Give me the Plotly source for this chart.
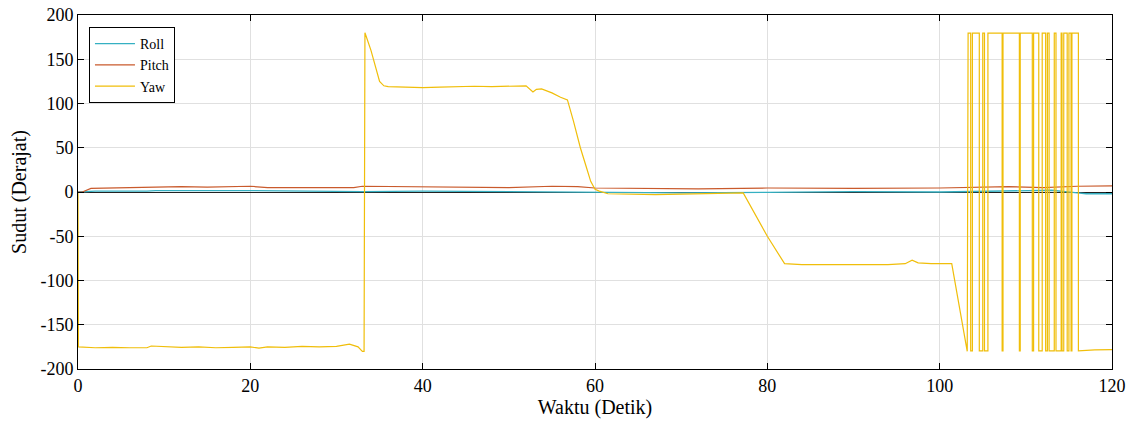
import plotly.graph_objects as go

# ---- Data ----
yaw_t = [0, 0.05, 2, 4, 6, 8, 8.5, 10, 12, 14, 16, 18, 20, 21, 22, 24, 26, 28, 30, 31.5, 32, 32.5, 33.0, 33.2,
         33.3, 34, 35, 35.5, 36, 38, 40, 42, 44, 46, 48, 50, 52, 52.8, 53.2, 53.8, 55, 56, 56.8, 57.5, 58.3, 59,
         59.5, 60, 60.5, 61.5, 64, 67, 70, 73, 76, 77.2, 80, 82, 84, 86, 88, 90, 92, 94, 96, 96.8, 97.5, 99,
         100.5, 101.4, 103.2, 103.3]
yaw_v = [0, -175, -176, -175.5, -176, -176, -174, -175, -175.5, -175, -176, -175.5, -175, -176.5, -175, -175.5,
         -174.5, -175, -174.5, -172, -173.5, -175, -180, -180,
         180, 160, 125, 120, 119, 118.5, 118, 118.5, 119, 119.5, 119, 119.5, 120, 113, 116, 116.5, 112, 107, 104,
         80, 50, 28, 12, 3, 1, -2, -2.5, -3, -2.5, -2, -1.5, -1, -50, -81, -82, -82, -81.5, -82, -82, -82, -81,
         -77, -80, -81, -81, -81, -180, 179.5]
# brief wraps of yaw from +180 to -180 (start, end)
yaw_dip_start = [103.6, 104.6, 105.2, 107.25, 109.25, 110.75, 111.5, 112.3, 112.7, 113.5, 114.2, 114.8, 115.25]
yaw_dip_end = [103.8, 105.0, 105.6, 107.35, 109.35, 110.9, 111.9, 112.5, 113.3, 114.1, 114.4, 115.0, 115.35]
yaw_tail_t = [116.1, 116.1, 118, 120]
yaw_tail_v = [179.5, -179.5, -178.5, -178]

roll_t = [0, 2, 8, 9, 20, 30, 33, 40, 50, 60, 70, 80, 90, 100, 105, 110, 113, 116, 117, 120]
roll_v = [0, 1, 1, 1.5, 1.5, 1, 0.5, 1, 0.5, -0.5, -1, -0.5, 0.5, 0, 1, 1.5, 2, -1, -2, -2]

pitch_t = [0, 0.5, 1.5, 4, 8, 9, 12, 15, 20, 22, 28, 32, 33, 38, 45, 50, 55, 58, 60, 66, 72, 80, 90, 100, 103,
           108, 112, 116, 120]
pitch_v = [0, 0, 4, 4.5, 4.5, 5.5, 6, 5.5, 6.5, 5, 4.5, 5, 6.5, 6, 5.5, 5, 6.5, 6, 4.5, 4, 3.5, 4.5, 4, 4.5, 5,
           6, 5, 6.5, 7]

x_ticks = [0, 20, 40, 60, 80, 100, 120]
y_ticks = [-200, -150, -100, -50, 0, 50, 100, 150, 200]
y_tick_labels = ["-200", "-150", "-100", "-50", "0", "50", "100", "150", "200"]

# build yaw wrap-around section
yt = list(yaw_t)
yv = list(yaw_v)
for s, e in zip(yaw_dip_start, yaw_dip_end):
    yt += [s, s, e, e]
    yv += [179.5, -179.5, -179.5, 179.5]
yt += yaw_tail_t
yv += yaw_tail_v

font_family = "Liberation Serif, Times New Roman, serif"

fig = go.Figure()
fig.add_trace(go.Scatter(x=roll_t, y=roll_v, mode="lines", name="Roll",
                         line=dict(color="#35B0C2", width=1.3)))
fig.add_trace(go.Scatter(x=pitch_t, y=pitch_v, mode="lines", name="Pitch",
                         line=dict(color="#C95A2C", width=1.2)))
fig.add_trace(go.Scatter(x=yt, y=yv, mode="lines", name="Yaw",
                         line=dict(color="#F0BE0A", width=1.2)))

axis_common = dict(showline=True, linecolor="black", linewidth=1, mirror="ticks",
                   ticks="inside", ticklen=6, tickcolor="black", automargin=False,
                   showgrid=True, gridcolor="#E0E0E0", gridwidth=1,
                   tickfont=dict(family=font_family, size=18, color="black"))

fig.update_layout(
    width=1131, height=427,
    margin=dict(l=78, r=19, t=15, b=58),
    paper_bgcolor="white", plot_bgcolor="white",
    font=dict(family=font_family, color="black"),
    xaxis=dict(range=[0, 120], tickvals=x_ticks, zeroline=False,
               title=dict(text="Waktu (Detik)", font=dict(family=font_family, size=20), standoff=2),
               **axis_common),
    yaxis=dict(range=[-200, 200], tickvals=y_ticks, ticktext=y_tick_labels,
               zeroline=True, zerolinecolor="#222222", zerolinewidth=1,
               title=dict(text="Sudut (Derajat)", font=dict(family=font_family, size=20), standoff=8),
               **axis_common),
    legend=dict(x=0.0106, y=0.966, xanchor="left", yanchor="top",
                bgcolor="white", bordercolor="black", borderwidth=1,
                font=dict(family=font_family, size=14, color="black"),
                tracegroupgap=0, itemwidth=40),
    showlegend=True,
)

# remove the browser's default 8px page margin so the figure fills the window exactly
fig.write_html("out.html", config={"displayModeBar": False},
               post_script="document.body.style.margin='0';")
